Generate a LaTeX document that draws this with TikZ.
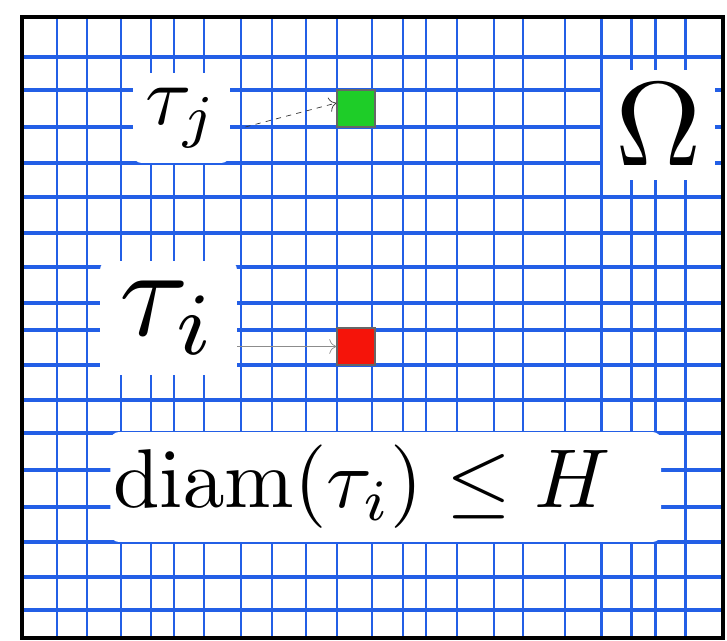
\documentclass[tikz,border=0pt]{standalone}
\usepackage{amsmath}
\usepackage{graphicx}
\usepackage{tikz}
\usetikzlibrary{arrows.meta,positioning,calc}
\definecolor{meshBlue}{RGB}{35,95,230}
\definecolor{cellGreen}{RGB}{30,205,40}
\definecolor{cellRed}{RGB}{245,20,10}

\begin{document}
\begin{tikzpicture}[x=0.02cm,y=-0.02cm,
  vline/.style={meshBlue,line width=1.7pt},
  hline/.style={meshBlue,line width=2.1pt},
  lbl/.style={fill=white,rounded corners=5pt,inner sep=0pt,align=center},
  cell/.style={rectangle,draw=black!60,line width=0.8pt,minimum width=0.76cm,minimum height=0.74cm,inner sep=0pt},
  jarr/.style={-{To[length=4pt]},dashed,thin,black!80},
  iarr/.style={-{To[length=4pt]},thin,black!45}
]
  \useasboundingbox (0,0) rectangle (727,641);
  % mesh
  \foreach \x in {57,87,121,151,174,204,241,272,306,337,372,403,426,457,494,523,565,601,631,655,685}
    \draw[vline] (\x,17) -- (\x,638);
  \foreach \y in {57,90,127,163,197,233,267,303,330,365,400,433,470,507,542,577,610}
    \draw[hline] (22,\y) -- (723,\y);

  % labels
  \node[lbl,minimum width=1.94cm,minimum height=1.8cm] (tauj) at (181.5,118) {\scalebox{4.8}{$\tau_j$}};
  \node[lbl,minimum width=2.24cm,minimum height=2.2cm] (omega) at (659,125) {\scalebox{6.8}{$\Omega$}};
  \node[lbl,minimum width=2.74cm,minimum height=2.28cm] (taui) at (168.5,318) {\scalebox{7.2}{$\tau_i$}};
  \node[lbl,anchor=west,inner xsep=0.06cm,text width=10.9cm,minimum height=2.2cm,align=left]
    (diam) at (110,487) {\scalebox{4.75}{$\mathrm{diam}(\tau_i)\leq H$}};

  % elements
  \node[cell,fill=cellGreen] (green) at (356,108.5) {};
  \node[cell,fill=cellRed] (red) at (356,346.5) {};

  \draw[jarr] ([xshift=0.3cm,yshift=-0.18cm]tauj.east) -- ([yshift=0.11cm]green.west);
  \draw[iarr] (taui.east |- red.west) -- (red.west);

  % domain
  \draw[line width=2.3pt] (22,17) rectangle (723,638);
\end{tikzpicture}
\end{document}
